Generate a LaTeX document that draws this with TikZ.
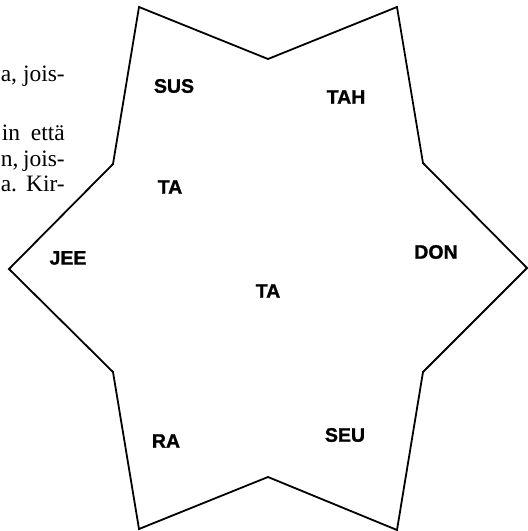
\documentclass[tikz,border=0pt]{standalone}
\usepackage{fontspec}
\setmainfont{Liberation Serif}
\newfontfamily\labelfont[FakeBold=1.2]{Liberation Sans Bold}
\begin{document}
\begin{tikzpicture}[x=1pt,y=-1pt,
  lbl/.style={font=\labelfont\fontsize{19.5}{21}\selectfont, inner sep=0pt},
  bodytext/.style={font=\fontsize{23.5}{25}\selectfont, inner sep=0pt, anchor=base east},
  starline/.style={draw=black, line width=1.8pt, line join=miter}]
\useasboundingbox (0,0) rectangle (528,531);
% star vertices
\coordinate (A) at (139,7);
\coordinate (B) at (268,59);
\coordinate (C) at (397,7);
\coordinate (D) at (423,163);
\coordinate (E) at (527,268);
\coordinate (F) at (423,372);
\coordinate (G) at (397,530);
\coordinate (H) at (268,477);
\coordinate (I) at (139,529);
\coordinate (J) at (113,372);
\coordinate (K) at (9,269);
\coordinate (L) at (113,164);
\draw[starline] (A) -- (B) -- (C) -- (D) -- (E) -- (F) -- (G) -- (H) -- (I) -- (J) -- (K) -- (L) -- cycle;
% side text
\node[bodytext] (t1) at (65,81) {\makebox[64pt][s]{a, jois-}};
\node[bodytext] (t2) at (65,140) {\makebox[63pt][s]{in että}};
\node[bodytext] (t3) at (65,166) {\makebox[64pt][s]{n, jois-}};
\node[bodytext] (t4) at (65,191) {\makebox[64pt][s]{a. Kir-}};
% labels
\node[lbl] (sus) at (174,86) {SUS};
\node[lbl] (tah) at (346,97) {TAH};
\node[lbl] (ta1) at (170,187) {TA};
\node[lbl] (jee) at (68,258) {JEE};
\node[lbl] (don) at (436,252) {DON};
\node[lbl] (ta2) at (268,291) {TA};
\node[lbl] (ra) at (166,441) {RA};
\node[lbl] (seu) at (345,435) {SEU};
\end{tikzpicture}
\end{document}
